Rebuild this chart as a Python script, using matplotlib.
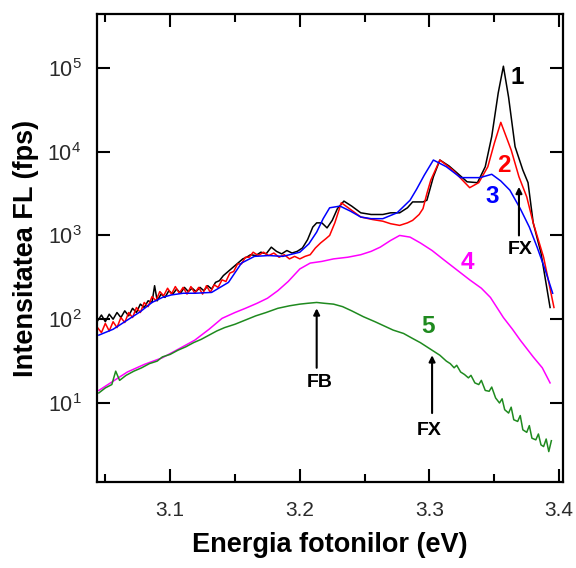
import numpy as np
import matplotlib
matplotlib.use("Agg")
import matplotlib.pyplot as plt
from matplotlib.ticker import FixedLocator, NullLocator, LogFormatterSciNotation, FormatStrFormatter

plt.rcParams['font.family'] = ['Liberation Sans', 'DejaVu Sans']
plt.rcParams['mathtext.fontset'] = 'custom'
plt.rcParams['mathtext.rm'] = 'Liberation Sans'
plt.rcParams['mathtext.it'] = 'Liberation Sans:italic'
plt.rcParams['mathtext.bf'] = 'Liberation Sans:bold'

# ---- spectra: photon energy (eV) and log10 of PL intensity (fps) ----
e1 = [3.044, 3.047, 3.050, 3.053, 3.056, 3.059, 3.062, 3.065, 3.068, 3.071,
      3.074, 3.077, 3.080, 3.083, 3.086, 3.088, 3.090, 3.093, 3.096, 3.099,
      3.102, 3.105, 3.108, 3.111, 3.114, 3.117, 3.120, 3.123, 3.126, 3.129,
      3.132, 3.135, 3.138, 3.141, 3.144, 3.147, 3.150, 3.153, 3.156, 3.159,
      3.162, 3.166, 3.170, 3.174, 3.178, 3.182, 3.186, 3.190, 3.194, 3.198,
      3.202, 3.206, 3.210, 3.213, 3.217, 3.221, 3.225, 3.229, 3.234, 3.240,
      3.247, 3.255, 3.264, 3.270, 3.277, 3.283, 3.287, 3.295, 3.298, 3.303,
      3.308, 3.315, 3.321, 3.329, 3.337, 3.343, 3.348, 3.353, 3.357, 3.361,
      3.366, 3.372, 3.376, 3.380, 3.386, 3.393]
lg1 = [1.98, 2.05, 1.97, 2.06, 2.00, 2.08, 2.02, 2.10, 2.04, 2.13,
       2.08, 2.18, 2.14, 2.22, 2.20, 2.40, 2.22, 2.30, 2.26, 2.34,
       2.30, 2.36, 2.31, 2.38, 2.33, 2.37, 2.33, 2.38, 2.34, 2.40,
       2.36, 2.44, 2.46, 2.52, 2.56, 2.60, 2.64, 2.68, 2.72, 2.74,
       2.77, 2.76, 2.80, 2.78, 2.86, 2.81, 2.78, 2.82, 2.79, 2.81,
       2.85, 2.95, 3.10, 3.15, 3.15, 3.09, 3.18, 3.32, 3.41, 3.35,
       3.27, 3.25, 3.25, 3.27, 3.27, 3.33, 3.40, 3.40, 3.42, 3.70,
       3.90, 3.83, 3.75, 3.64, 3.63, 3.82, 4.18, 4.70, 5.02, 4.65,
       4.06, 3.78, 3.63, 3.15, 2.79, 2.14]

e2 = [3.044, 3.047, 3.050, 3.053, 3.056, 3.059, 3.062, 3.065, 3.068, 3.071,
      3.074, 3.077, 3.080, 3.083, 3.086, 3.089, 3.092, 3.095, 3.098, 3.101,
      3.104, 3.107, 3.110, 3.113, 3.116, 3.119, 3.122, 3.125, 3.128, 3.131,
      3.134, 3.137, 3.140, 3.143, 3.146, 3.149, 3.152, 3.155, 3.158, 3.161,
      3.164, 3.168, 3.172, 3.176, 3.180, 3.184, 3.188, 3.192, 3.196, 3.200,
      3.204, 3.208, 3.212, 3.216, 3.220, 3.223, 3.227, 3.232, 3.240, 3.247,
      3.256, 3.264, 3.270, 3.277, 3.283, 3.287, 3.292, 3.295, 3.298, 3.301,
      3.308, 3.318, 3.331, 3.338, 3.345, 3.350, 3.355, 3.363, 3.369, 3.375,
      3.380, 3.388, 3.396]
lg2 = [1.90, 1.84, 1.95, 1.86, 1.97, 1.90, 2.02, 1.96, 2.08, 2.02,
       2.14, 2.08, 2.20, 2.15, 2.27, 2.22, 2.33, 2.28, 2.37, 2.30,
       2.39, 2.31, 2.38, 2.30, 2.39, 2.31, 2.38, 2.30, 2.40, 2.32,
       2.41, 2.38, 2.47, 2.45, 2.55, 2.57, 2.66, 2.66, 2.74, 2.74,
       2.80, 2.76, 2.80, 2.76, 2.79, 2.74, 2.77, 2.72, 2.75, 2.72,
       2.75, 2.77, 2.85, 2.91, 2.96, 3.00, 3.15, 3.39, 3.30, 3.22,
       3.19, 3.17, 3.14, 3.12, 3.15, 3.18, 3.25, 3.32, 3.50, 3.66,
       3.90, 3.78, 3.57, 3.63, 3.82, 4.10, 4.35, 4.02, 3.70, 3.46,
       3.15, 2.74, 2.14]

e3 = [3.045, 3.056, 3.067, 3.077, 3.086, 3.094, 3.101, 3.110, 3.119, 3.132,
      3.145, 3.155, 3.165, 3.176, 3.187, 3.200, 3.207, 3.213, 3.218, 3.223,
      3.231, 3.239, 3.247, 3.255, 3.264, 3.275, 3.285, 3.290, 3.296, 3.303,
      3.313, 3.324, 3.339, 3.348, 3.355, 3.362, 3.370, 3.377, 3.383, 3.389,
      3.395]
lg3 = [1.81, 1.88, 1.99, 2.09, 2.20, 2.26, 2.29, 2.31, 2.31, 2.32,
       2.44, 2.67, 2.75, 2.76, 2.75, 2.80, 2.90, 3.04, 3.20, 3.33,
       3.35, 3.29, 3.22, 3.20, 3.20, 3.27, 3.42, 3.55, 3.72, 3.90,
       3.82, 3.69, 3.69, 3.73, 3.65, 3.54, 3.32, 3.10, 2.86, 2.60,
       2.31]

e4 = [3.045, 3.056, 3.067, 3.080, 3.094, 3.106, 3.119, 3.130, 3.140, 3.150,
      3.158, 3.167, 3.175, 3.183, 3.191, 3.200, 3.208, 3.217, 3.226, 3.237,
      3.247, 3.255, 3.262, 3.270, 3.277, 3.285, 3.293, 3.302, 3.311, 3.321,
      3.331, 3.340, 3.347, 3.357, 3.364, 3.370, 3.380, 3.387, 3.393]
lg4 = [1.15, 1.26, 1.37, 1.46, 1.54, 1.64, 1.75, 1.88, 2.01, 2.08,
       2.13, 2.19, 2.25, 2.34, 2.45, 2.60, 2.67, 2.69, 2.72, 2.74,
       2.77, 2.81, 2.86, 2.94, 3.00, 2.98, 2.91, 2.82, 2.71, 2.59,
       2.47, 2.37, 2.26, 2.02, 1.88, 1.75, 1.55, 1.42, 1.24]

e5 = [3.045, 3.050, 3.055, 3.058, 3.061, 3.066, 3.072, 3.078, 3.084, 3.090,
      3.094, 3.100, 3.106, 3.112, 3.118, 3.124, 3.130, 3.136, 3.142, 3.150,
      3.158, 3.166, 3.174, 3.183, 3.192, 3.200, 3.206, 3.213, 3.219, 3.226,
      3.233, 3.240, 3.249, 3.258, 3.265, 3.272, 3.280, 3.287, 3.293, 3.298,
      3.303, 3.308, 3.313, 3.316, 3.319, 3.321, 3.324, 3.327, 3.330, 3.332,
      3.335, 3.338, 3.340, 3.343, 3.346, 3.348, 3.351, 3.354, 3.356, 3.358,
      3.361, 3.363, 3.365, 3.368, 3.370, 3.372, 3.375, 3.377, 3.379, 3.382,
      3.384, 3.386, 3.388, 3.390, 3.392, 3.394]
lg5 = [1.12, 1.18, 1.22, 1.38, 1.27, 1.33, 1.38, 1.42, 1.47, 1.50,
       1.55, 1.58, 1.63, 1.67, 1.72, 1.76, 1.81, 1.86, 1.90, 1.94,
       1.99, 2.04, 2.08, 2.13, 2.16, 2.18, 2.19, 2.20, 2.19, 2.18,
       2.15, 2.10, 2.03, 1.97, 1.92, 1.87, 1.83, 1.77, 1.72, 1.67,
       1.62, 1.57, 1.50, 1.47, 1.42, 1.45, 1.37, 1.34, 1.30, 1.33,
       1.24, 1.22, 1.27, 1.15, 1.14, 1.19, 1.06, 1.00, 1.05, 0.92,
       0.88, 0.95, 0.80, 0.78, 0.85, 0.68, 0.65, 0.73, 0.58, 0.56,
       0.63, 0.50, 0.48, 0.57, 0.42, 0.55]

series = [
    (e1, lg1, '#000000'),
    (e2, lg2, '#ff0000'),
    (e3, lg3, '#0000ff'),
    (e4, lg4, '#ff00ff'),
    (e5, lg5, '#1f8a1f'),
]

x_ticks = [3.1, 3.2, 3.3, 3.4]
x_minor = [3.05, 3.15, 3.25, 3.35]
y_ticks = [1e1, 1e2, 1e3, 1e4, 1e5]

fig = plt.figure(figsize=(5.76, 5.68), dpi=100)
ax = fig.add_axes([0.168, 0.1514, 0.8095, 0.824])

for e, lg, c in series:
    ax.plot(e, np.power(10.0, lg), color=c, lw=1.1)

ax.set_yscale('log')
ax.set_xlim(3.0434, 3.403)
ax.set_ylim(1.14, 4.4e5)

ax.xaxis.set_major_locator(FixedLocator(x_ticks))
ax.xaxis.set_minor_locator(FixedLocator(x_minor))
ax.xaxis.set_major_formatter(FormatStrFormatter('%.1f'))
ax.yaxis.set_major_locator(FixedLocator(y_ticks))
ax.yaxis.set_minor_locator(NullLocator())
ax.yaxis.set_major_formatter(LogFormatterSciNotation())

ax.tick_params(axis='both', which='both', direction='in', top=True, right=True,
               width=1.5, color='black')
ax.tick_params(axis='both', which='major', length=9.5)
ax.tick_params(axis='both', which='minor', length=6)
ax.tick_params(axis='x', which='major', labelsize=15, pad=14, labelcolor='#2a2a2a')
ax.tick_params(axis='y', which='major', labelsize=15.5, pad=11, labelcolor='#2a2a2a')
for sp in ax.spines.values():
    sp.set_linewidth(1.6)

ax.set_xlabel('Energia fotonilor (eV)', fontsize=19.5, fontweight='bold', labelpad=8)
ax.set_ylabel('Intensitatea FL (fps)', fontsize=19.5, fontweight='bold', labelpad=6)

# curve numbers
lab_kw = dict(fontsize=17.5, fontweight='bold', ha='center', va='center')
ax.text(3.368, 10**4.88, '1', color='#000000', **lab_kw)
ax.text(3.357, 10**3.84, '2', color='#ff0000', **lab_kw)
ax.text(3.348, 10**3.46, '3', color='#0000ff', **lab_kw)
ax.text(3.329, 10**2.68, '4', color='#ff00ff', **lab_kw)
ax.text(3.299, 10**1.91, '5', color='#1f8a1f', **lab_kw)

# free-exciton and bound-exciton markers
arr = dict(arrowstyle='-|>', color='black', lw=1.5, mutation_scale=9,
           shrinkA=0, shrinkB=0)
ann_kw = dict(fontsize=14, fontweight='bold', ha='center', va='center')
ax.annotate('', xy=(3.369, 10**3.58), xytext=(3.369, 10**3.0), arrowprops=arr)
ax.text(3.370, 10**2.83, 'FX', **ann_kw)
ax.annotate('', xy=(3.213, 10**2.13), xytext=(3.213, 10**1.42), arrowprops=arr)
ax.text(3.215, 10**1.24, 'FB', **ann_kw)
ax.annotate('', xy=(3.302, 10**1.57), xytext=(3.302, 10**0.88), arrowprops=arr)
ax.text(3.300, 10**0.675, 'FX', **ann_kw)

fig.savefig('out.png', dpi=100)
